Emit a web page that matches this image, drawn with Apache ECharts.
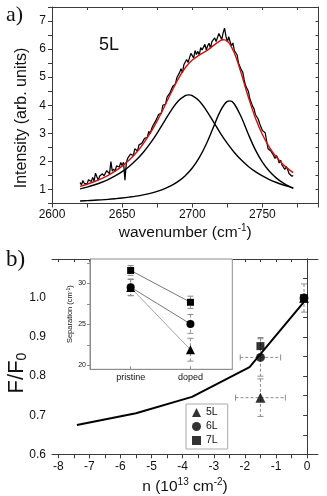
<!DOCTYPE html>
<html><head><meta charset="utf-8">
<script src="https://cdn.jsdelivr.net/npm/echarts@6/dist/echarts.min.js"></script>
<style>html,body{margin:0;padding:0;background:#fff}#c{width:327px;height:496px}</style>
</head><body><div id="c"></div>
<script>
// ---------- panel a) : Raman 2D band of 5L ----------
const specX = [2620,2621,2622,2623,2624,2625,2626,2627,2628,2629,2630,2631,2632,2633,2634,2635,2636,2637,2638,2639,2640,2641,2642,2643,2644,2645,2646,2647,2648,2649,2650,2651,2652,2653,2654,2655,2656,2657,2658,2659,2660,2661,2662,2663,2664,2665,2666,2667,2668,2669,2670,2671,2672,2673,2674,2675,2676,2677,2678,2679,2680,2681,2682,2683,2684,2685,2686,2687,2688,2689,2690,2691,2692,2693,2694,2695,2696,2697,2698,2699,2700,2701,2702,2703,2704,2705,2706,2707,2708,2709,2710,2711,2712,2713,2714,2715,2716,2717,2718,2719,2720,2721,2722,2723,2724,2725,2726,2727,2728,2729,2730,2731,2732,2733,2734,2735,2736,2737,2738,2739,2740,2741,2742,2743,2744,2745,2746,2747,2748,2749,2750,2751,2752,2753,2754,2755,2756,2757,2758,2759,2760,2761,2762,2763,2764,2765,2766,2767,2768,2769,2770,2771,2772];
const specY = [1.25,1.16,1.32,1.22,1.28,1.19,1.35,1.30,1.28,1.43,
1.30,1.58,1.45,1.33,1.48,1.45,1.56,1.48,1.46,1.67,
1.64,1.56,1.99,1.65,1.73,1.65,1.84,1.80,1.80,1.96,
1.85,1.97,1.33,1.95,2.12,2.12,2.26,2.20,2.21,2.45,
2.42,2.37,2.59,2.53,2.64,2.60,2.82,2.83,2.86,3.07,
2.99,3.16,3.28,3.23,3.45,3.48,3.67,3.66,3.72,4.00,
4.05,4.04,4.29,4.28,4.43,4.42,4.67,4.70,4.76,4.98,
4.97,5.17,5.30,5.16,5.44,5.44,5.63,5.52,5.51,5.85,
5.82,5.69,5.95,5.81,5.92,5.79,6.05,5.97,5.94,6.17,
5.97,6.12,6.21,6.03,6.27,6.22,6.40,6.27,6.24,6.56,
6.49,6.34,6.58,6.75,6.46,6.26,6.44,6.26,6.12,6.22,
5.95,5.90,5.79,5.50,5.47,5.26,5.18,4.91,4.70,4.71,
4.50,4.24,4.24,3.97,3.88,3.67,3.70,3.51,3.35,3.36,
3.10,3.09,3.02,3.08,2.45,2.49,2.37,2.39,2.21,2.10,
2.21,2.11,1.94,2.04,1.87,1.86,1.71,1.82,1.71,1.57,
1.62,1.47,1.50];
const fitX = [2620,2625,2630,2635,2640,2645,2650,2655,2660,2665,2670,2675,2680,2685,2690,2695,2700,2705,2710,2715,2720,2722,2723,2725,2727,2730,2732,2735,2740,2745,2750,2755,2760,2765,2770,2772];
const fitY = [1.112,1.186,1.275,1.378,1.502,1.651,1.830,2.047,2.309,2.626,3.004,3.444,3.938,4.453,4.940,5.336,5.610,5.786,5.936,6.123,6.302,6.331,6.329,6.279,6.163,5.864,5.592,5.118,4.286,3.547,2.956,2.501,2.152,1.883,1.672,1.602];
const peak1X = [2620,2625,2630,2635,2640,2645,2650,2655,2660,2665,2670,2675,2680,2685,2690,2695,2697.5,2700,2705,2710,2715,2720,2725,2730,2735,2740,2745,2750,2755,2760,2765,2770,2772];
const peak1Y = [1.022,1.085,1.160,1.248,1.354,1.481,1.635,1.821,2.047,2.319,2.641,3.011,3.416,3.816,4.151,4.344,4.37,4.344,4.151,3.816,3.416,3.011,2.641,2.319,2.047,1.821,1.635,1.481,1.354,1.248,1.160,1.085,1.059];
const peak2X = [2620,2625,2630,2635,2640,2645,2650,2655,2660,2665,2670,2675,2680,2685,2690,2695,2700,2705,2710,2715,2720,2725,2727,2730,2735,2740,2745,2750,2755,2760,2765,2770,2772];
const peak2Y = [0.590,0.601,0.615,0.630,0.648,0.670,0.695,0.726,0.762,0.807,0.863,0.933,1.022,1.137,1.289,1.492,1.766,2.135,2.620,3.207,3.791,4.138,4.157,4.045,3.571,2.965,2.412,1.975,1.647,1.404,1.223,1.087,1.043];

// ---------- panel b) : F/F0 vs n ----------
const curveN = [-7.4, -5.5, -3.7, -1.85, -0.1];
const curveF = [0.675, 0.705, 0.747, 0.823, 0.99];
const pointN = [-1.5, -0.1];
const f5L = [0.745, 1.0];
const f6L = [0.848, 1.0];
const f7L = [0.877, 1.0];
const errN = [-1.5, -1.5, -1.5, -0.1];
const errF = [0.745, 0.848, 0.877, 1.0];
const errXhalf = [0.8, 0.65, 0, 0];
const errYhalf = [0.048, 0.048, 0.022, 0.036];
const nTickLabels = [-8,-7,-6,-5,-4,-3,-2,-1,0];
const nTicks = [-8,-7.5,-7,-6.5,-6,-5.5,-5,-4.5,-4,-3.5,-3,-2.5,-2,-1.5,-1,-0.5,0];

// ---------- inset : separation ----------
const insetCats = ['pristine', 'doped'];
const insetPos = [1, 2];
const sep5L = [29.5, 21.9];
const sep6L = [29.55, 25.05];
const sep7L = [31.6, 27.7];
const sepErr5L = [1.0, 1.4];
const sepErr6L = [1.0, 1.15];
const sepErr7L = [0.6, 0.75];
const sepLabels = [20, 25, 30];
const sepTicks = [20, 22.5, 25, 27.5, 30, 32.5];

const FONT = 'Liberation Sans, Arial, sans-serif';
const AX = '#3a3a3a';
const pairs = (xs, ys) => xs.map((x, i) => [x, ys[i]]);

function errRender(params, api) {
  const x = api.value(0), y = api.value(1), ex = api.value(2), ey = api.value(3);
  const ch = [];
  const dash = {stroke: '#8c8c8c', lineWidth: 1, lineDash: [3, 2]};
  const solid = {stroke: '#8c8c8c', lineWidth: 1};
  const cap = 3;
  if (ey > 0) {
    const t = api.coord([x, y + ey]), b = api.coord([x, y - ey]);
    ch.push({type: 'line', shape: {x1: t[0], y1: t[1], x2: b[0], y2: b[1]}, style: dash});
    ch.push({type: 'line', shape: {x1: t[0] - cap, y1: t[1], x2: t[0] + cap, y2: t[1]}, style: solid});
    ch.push({type: 'line', shape: {x1: b[0] - cap, y1: b[1], x2: b[0] + cap, y2: b[1]}, style: solid});
  }
  if (ex > 0) {
    const l = api.coord([x - ex, y]), r = api.coord([x + ex, y]);
    ch.push({type: 'line', shape: {x1: l[0], y1: l[1], x2: r[0], y2: r[1]}, style: dash});
    ch.push({type: 'line', shape: {x1: l[0], y1: l[1] - cap, x2: l[0], y2: l[1] + cap}, style: solid});
    ch.push({type: 'line', shape: {x1: r[0], y1: r[1] - cap, x2: r[0], y2: r[1] + cap}, style: solid});
  }
  return {type: 'group', children: ch};
}

const mainErrData = errN.map((n, i) => [n, errF[i], errXhalf[i], errYhalf[i]]);
const insetErrData = [];
insetPos.forEach((p, i) => {
  insetErrData.push([p, sep5L[i], 0, sepErr5L[i]]);
  insetErrData.push([p, sep6L[i], 0, sepErr6L[i]]);
  insetErrData.push([p, sep7L[i], 0, sepErr7L[i]]);
});

const lineAx = {lineStyle: {color: AX, width: 1}};
const mirror = (extra) => Object.assign({
  axisLabel: {show: false}, splitLine: {show: false},
  axisLine: lineAx, axisTick: {inside: true, length: 3, lineStyle: {color: AX}}
}, extra);

const chart = echarts.init(document.getElementById('c'), null, {renderer: 'canvas'});
chart.setOption({
  animation: false,
  backgroundColor: '#fff',
  textStyle: {fontFamily: FONT},
  grid: [
    {left: 52, top: 7, width: 266.5, height: 196.5},
    {left: 52, top: 259, width: 266, height: 195.3},
    {left: 90, top: 259, width: 142.3, height: 110.3, show: true, backgroundColor: '#fff', borderColor: '#8c8c8c', borderWidth: 1, z: 5}
  ],
  xAxis: [
    {gridIndex: 0, type: 'value', min: 2600, max: 2790, interval: 25,
     axisLine: lineAx, axisTick: {length: 4, lineStyle: {color: AX}},
     axisLabel: {fontSize: 12, color: '#111', margin: 5, formatter: v => (v % 50 === 0 ? String(v) : '')},
     splitLine: {show: false},
     name: '{a|wavenumber (cm}{s|-1}{a|)}', nameLocation: 'middle', nameGap: 20,
     nameTextStyle: {rich: {a: {fontSize: 15.5, color: '#111', fontFamily: FONT}, s: {fontSize: 10, color: '#111', fontFamily: FONT, padding: [0, 0, 8, 0]}}}},
    mirror({gridIndex: 0, type: 'value', position: 'top', min: 2600, max: 2790, interval: 25}),
    {gridIndex: 1, type: 'value', min: -8.2, max: 0.35,
     axisLine: lineAx, axisTick: {length: 4, customValues: nTicks, lineStyle: {color: AX}},
     axisLabel: {fontSize: 12, color: '#111', margin: 6, customValues: nTickLabels},
     splitLine: {show: false},
     name: '{a|n (10}{s|13}{a| cm}{s|-2}{a|)}', nameLocation: 'middle', nameGap: 23,
     nameTextStyle: {rich: {a: {fontSize: 15.5, color: '#111', fontFamily: FONT}, s: {fontSize: 10, color: '#111', fontFamily: FONT, padding: [0, 0, 8, 0]}}}},
    mirror({gridIndex: 1, type: 'value', position: 'top', min: -8.2, max: 0.35, axisTick: {inside: true, length: 3, customValues: nTicks, lineStyle: {color: AX}}}),
    {gridIndex: 2, type: 'value', min: 0.32, max: 2.7,
     axisLine: {lineStyle: {color: '#8c8c8c'}}, axisTick: {inside: true, length: 3, customValues: insetPos, lineStyle: {color: '#8c8c8c'}},
     axisLabel: {fontSize: 9, color: '#111', margin: 4, customValues: insetPos, formatter: v => insetCats[insetPos.indexOf(v)] || ''},
     splitLine: {show: false}, z: 6}
  ],
  yAxis: [
    {gridIndex: 0, type: 'value', min: 0.5, max: 7.5, interval: 0.5,
     axisLine: lineAx, axisTick: {length: 4, lineStyle: {color: AX}},
     axisLabel: {fontSize: 12, color: '#111', margin: 6, formatter: v => (Math.abs(v - Math.round(v)) < 1e-6 ? String(Math.round(v)) : '')},
     splitLine: {show: false}},
    mirror({gridIndex: 0, type: 'value', position: 'right', min: 0.5, max: 7.5, interval: 0.5}),
    {gridIndex: 1, type: 'value', min: 0.6, max: 1.1, interval: 0.05,
     axisLine: lineAx, axisTick: {length: 4, lineStyle: {color: AX}},
     axisLabel: {fontSize: 12, color: '#111', margin: 6, formatter: v => { const t = Math.round(v * 100); return (t % 10 === 0 && t <= 100) ? (t / 100).toFixed(1) : ''; }},
     splitLine: {show: false}},
    mirror({gridIndex: 1, type: 'value', position: 'right', min: 0.6, max: 1.1, interval: 0.05}),
    {gridIndex: 2, type: 'value', min: 19.5, max: 33,
     axisLine: {lineStyle: {color: '#8c8c8c'}}, axisTick: {length: 3, customValues: sepTicks, lineStyle: {color: '#8c8c8c'}},
     axisLabel: {fontSize: 7, color: '#111', margin: 4, customValues: sepLabels},
     splitLine: {show: false},
     name: '{a|Separation (cm}{s|-1}{a|)}', nameLocation: 'middle', nameGap: 14,
     nameTextStyle: {rich: {a: {fontSize: 7.5, color: '#111', fontFamily: FONT}, s: {fontSize: 5, color: '#111', fontFamily: FONT, padding: [0, 0, 4, 0]}}}, z: 6}
  ],
  legend: {
    orient: 'vertical', left: 186, top: 404, data: ['5L', '6L', '7L'],
    itemWidth: 9, itemHeight: 9, itemGap: 3, padding: [3, 10, 3, 6],
    borderColor: '#aaa', borderWidth: 1, backgroundColor: '#fff',
    textStyle: {fontSize: 10.5, color: '#111', fontFamily: FONT}
  },
  graphic: [
    {type: 'text', left: 6, top: 4, style: {text: 'a)', font: '22px "Liberation Serif", serif', fill: '#111'}},
    {type: 'text', left: 6, top: 248, style: {text: 'b)', font: '23px "Liberation Serif", serif', fill: '#111'}},
    {type: 'text', left: 99, top: 36, style: {text: '5L', font: '18px "Liberation Sans", Arial, sans-serif', fill: '#111'}},
    {type: 'text', x: 21.5, y: 118, rotation: Math.PI / 2,
     style: {text: 'Intensity (arb. units)', fontSize: 16, fontFamily: FONT, fill: '#111', align: 'center', verticalAlign: 'middle'}},
    {type: 'text', x: 16.5, y: 373, rotation: Math.PI / 2,
     style: {text: '{a|F/F}{s|0}', align: 'center', verticalAlign: 'middle',
       rich: {a: {fontSize: 22, fill: '#111', fontFamily: FONT}, s: {fontSize: 14, fill: '#111', fontFamily: FONT, padding: [11, 0, 0, 0]}}}}
  ],
  series: [
    {type: 'line', xAxisIndex: 0, yAxisIndex: 0, data: pairs(specX, specY), showSymbol: false, symbol: 'none',
     lineStyle: {color: '#000', width: 1.25}, z: 2},
    {type: 'line', xAxisIndex: 0, yAxisIndex: 0, data: pairs(peak1X, peak1Y), symbol: 'none', smooth: 0.4,
     lineStyle: {color: '#000', width: 1.4}, z: 3},
    {type: 'line', xAxisIndex: 0, yAxisIndex: 0, data: pairs(peak2X, peak2Y), symbol: 'none', smooth: 0.4,
     lineStyle: {color: '#000', width: 1.4}, z: 3},
    {type: 'line', xAxisIndex: 0, yAxisIndex: 0, data: pairs(fitX, fitY), symbol: 'none', smooth: 0.4,
     lineStyle: {color: '#cc1111', width: 1.4}, z: 4},

    {type: 'line', xAxisIndex: 2, yAxisIndex: 2, data: pairs(curveN, curveF), symbol: 'none',
     lineStyle: {color: '#000', width: 2}, z: 3},
    {type: 'custom', xAxisIndex: 2, yAxisIndex: 2, renderItem: errRender, data: mainErrData, z: 2, silent: true},
    {name: '5L', type: 'scatter', xAxisIndex: 2, yAxisIndex: 2, data: pairs(pointN, f5L), symbol: 'triangle', symbolSize: 10, itemStyle: {color: '#000'}, z: 4},
    {name: '6L', type: 'scatter', xAxisIndex: 2, yAxisIndex: 2, data: pairs(pointN, f6L), symbol: 'circle', symbolSize: 9, itemStyle: {color: '#000'}, z: 4},
    {name: '7L', type: 'scatter', xAxisIndex: 2, yAxisIndex: 2, data: pairs(pointN, f7L), symbol: 'rect', symbolSize: 8, itemStyle: {color: '#000'}, z: 4},

    {type: 'custom', xAxisIndex: 4, yAxisIndex: 4, renderItem: errRender, data: insetErrData, z: 7, silent: true},
    {type: 'line', xAxisIndex: 4, yAxisIndex: 4, data: pairs(insetPos, sep5L), symbol: 'triangle', symbolSize: 9,
     lineStyle: {color: '#8a8a8a', width: 0.8}, itemStyle: {color: '#000'}, z: 8},
    {type: 'line', xAxisIndex: 4, yAxisIndex: 4, data: pairs(insetPos, sep6L), symbol: 'circle', symbolSize: 8,
     lineStyle: {color: '#555', width: 0.8}, itemStyle: {color: '#000'}, z: 8},
    {type: 'line', xAxisIndex: 4, yAxisIndex: 4, data: pairs(insetPos, sep7L), symbol: 'rect', symbolSize: 7,
     lineStyle: {color: '#555', width: 0.8}, itemStyle: {color: '#000'}, z: 8}
  ]
});
</script></body></html>
